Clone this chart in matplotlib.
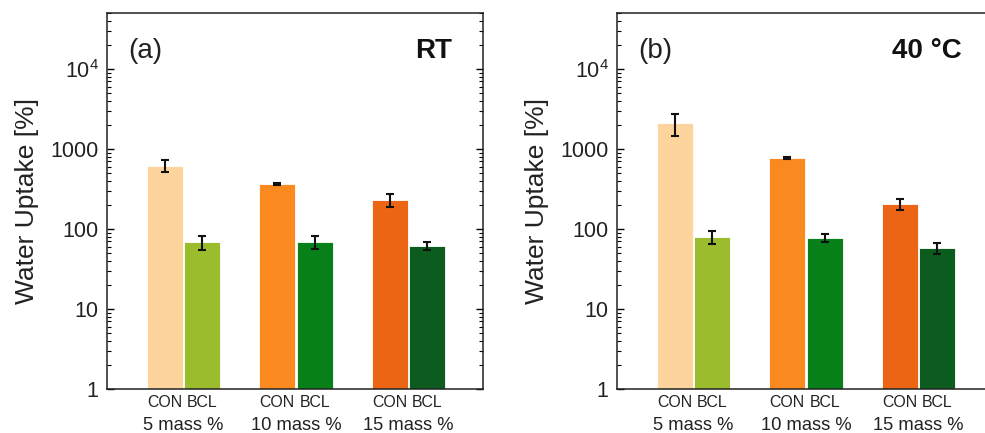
import numpy as np
import matplotlib
matplotlib.use("Agg")
import matplotlib.pyplot as plt
import matplotlib.ticker as ticker

plt.rcParams['font.family'] = ['Liberation Sans', 'DejaVu Sans']
plt.rcParams['mathtext.fontset'] = 'custom'
plt.rcParams['mathtext.rm'] = 'Liberation Sans'

# data
groups = ["5 mass %", "10 mass %", "15 mass %"]
kinds = ["CON", "BCL"]
con_colors = ["#FDD49B", "#FA8A1F", "#EB6514"]
bcl_colors = ["#9BBC2C", "#08801A", "#0B5C1E"]

rt_con = [620, 360, 230]
rt_con_err = [100, 10, 44]
rt_bcl = [68, 69, 62]
rt_bcl_err = [14, 13, 7]

hot_con = [2100, 770, 205]
hot_con_err = [650, 20, 32]
hot_bcl = [80, 77, 58]
hot_bcl_err = [15, 9, 9]

ytick_vals = [1, 10, 100, 1000, 10000]
ytick_labels = ["1", "10", "100", "1000", r"$\mathregular{10^4}$"]


def draw_panel(ax, con, con_err, bcl, bcl_err, tag, cond):
    x = np.arange(len(groups))
    off = 0.167
    w = 0.32
    ax.bar(x - off, con, w, color=con_colors, edgecolor="white", linewidth=0.6)
    ax.bar(x + off, bcl, w, color=bcl_colors, edgecolor="white", linewidth=0.6)
    ax.errorbar(x - off, con, yerr=con_err, fmt="none", ecolor="#111111",
                elinewidth=1.5, capsize=3, capthick=1.5)
    ax.errorbar(x + off, bcl, yerr=bcl_err, fmt="none", ecolor="#111111",
                elinewidth=1.5, capsize=3, capthick=1.5)

    ax.set_yscale("log")
    ax.set_ylim(1, 5e4)
    ax.set_xlim(-0.68, 2.662)
    ax.set_yticks(ytick_vals)
    ax.set_yticklabels(ytick_labels)
    ax.yaxis.set_minor_locator(ticker.LogLocator(base=10, subs=np.arange(2, 10)))
    ax.yaxis.set_minor_formatter(ticker.NullFormatter())
    ax.tick_params(axis="y", which="major", direction="in", length=5, width=1,
                   right=True, labelsize=15.5, labelcolor="#222222", pad=6)
    ax.tick_params(axis="y", which="minor", direction="in", length=3, width=0.8,
                   right=True)

    pos = np.concatenate([x - off, x + off])
    ax.set_xticks(pos)
    ax.set_xticklabels(kinds[:1] * len(groups) + kinds[1:] * len(groups))
    ax.tick_params(axis="x", length=0, labelsize=11.4, labelcolor="#222222", pad=4)
    for xi, g in zip(x, groups):
        ax.text(xi, -0.097, g, transform=ax.get_xaxis_transform(), ha="center",
                va="center", fontsize=13.2, color="#222222", clip_on=False)

    for s in ax.spines.values():
        s.set_linewidth(1.1)
        s.set_color("#222222")

    ax.set_ylabel("Water Uptake [%]", fontsize=19, color="#222222", labelpad=8)
    ax.text(0.056, 0.9, tag, transform=ax.transAxes, fontsize=20,
            ha="left", va="center", color="#222222")
    ax.text(0.918, 0.9, cond, transform=ax.transAxes, fontsize=20,
            fontweight="bold", ha="right", va="center", color="#111111")


fig = plt.figure(figsize=(9.85, 4.33), dpi=100)
ax1 = fig.add_axes([0.1086, 0.1016, 0.3817, 0.8684])
ax2 = fig.add_axes([0.6264, 0.1016, 0.3817, 0.8684])

draw_panel(ax1, rt_con, rt_con_err, rt_bcl, rt_bcl_err, "(a)", "RT")
draw_panel(ax2, hot_con, hot_con_err, hot_bcl, hot_bcl_err, "(b)", "40 °C")

fig.savefig("out.png", dpi=100)
